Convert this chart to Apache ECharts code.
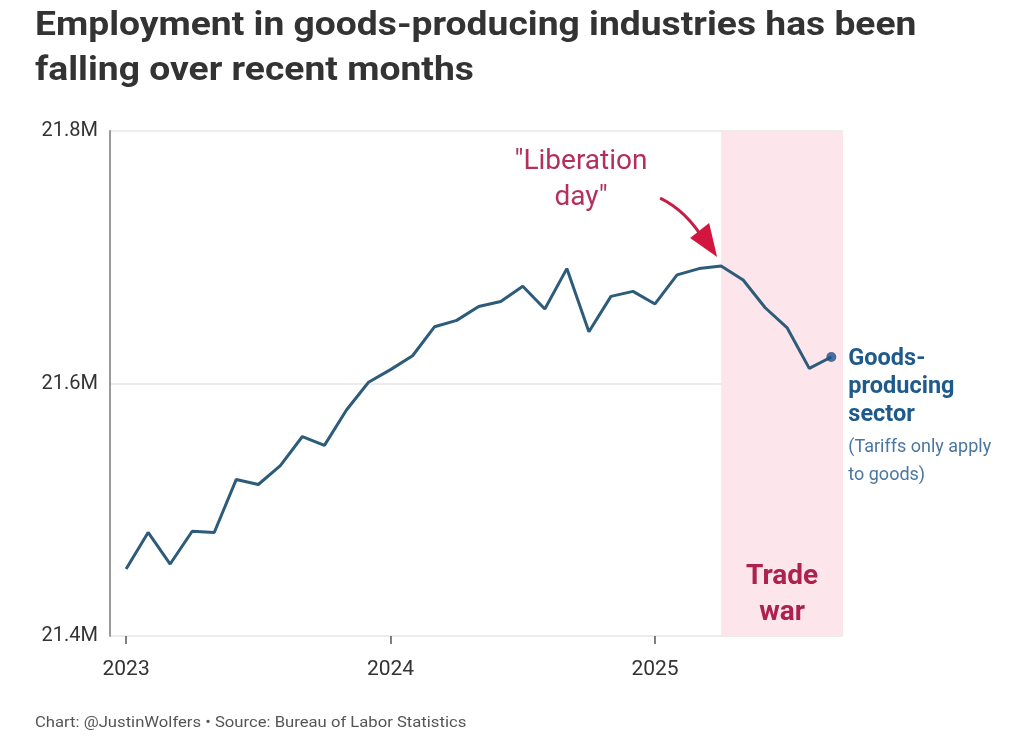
<!DOCTYPE html>
<html>
<head>
<meta charset="utf-8">
<script src="https://cdn.jsdelivr.net/npm/echarts@6/dist/echarts.min.js"></script>
<style>
  html, body { margin: 0; padding: 0; background: #ffffff; }
  #chart { width: 1012px; height: 739px; }
</style>
</head>
<body>
<div id="chart"></div>
<script>
// Monthly employment in goods-producing industries, millions (Jan 2023 - Sep 2025)
const months = [
  '2023-01','2023-02','2023-03','2023-04','2023-05','2023-06','2023-07','2023-08','2023-09','2023-10','2023-11','2023-12',
  '2024-01','2024-02','2024-03','2024-04','2024-05','2024-06','2024-07','2024-08','2024-09','2024-10','2024-11','2024-12',
  '2025-01','2025-02','2025-03','2025-04','2025-05','2025-06','2025-07','2025-08','2025-09'
];
const employment = [
  21.453, 21.482, 21.457, 21.483, 21.482, 21.524, 21.520, 21.535, 21.558, 21.551, 21.579, 21.601,
  21.611, 21.622, 21.645, 21.650, 21.661, 21.665, 21.677, 21.659, 21.691, 21.641, 21.669, 21.673,
  21.663, 21.686, 21.691, 21.693, 21.682, 21.660, 21.644, 21.612, 21.621
];
const yearLabels = ['2023', '2024', '2025'];
const yTicks = [21.4, 21.6, 21.8];
const tradeWarStart = '2025-04';

const FONT = 'Roboto, "Noto Sans", sans-serif';
const LINE = '#2d5b7a';
const ANNOT = '#b3305b';

// month index along the x axis, 0 = Jan 2023
const idx = m => months.indexOf(m);
const seriesData = employment.map((v, i) => [i, v]);
const yearTickPos = yearLabels.map(y => idx(y + '-01'));
const X_MIN = -0.73, X_MAX = 32.53;

const chart = echarts.init(document.getElementById('chart'));

chart.setOption({
  backgroundColor: '#ffffff',
  animation: false,
  grid: { left: 110, right: 169, top: 131, bottom: 103 },
  xAxis: {
    type: 'value',
    min: X_MIN,
    max: X_MAX,
    axisLine: { show: false },
    splitLine: { show: false },
    axisTick: {
      show: true,
      customValues: yearTickPos,
      length: 8,
      lineStyle: { color: '#555', width: 1.5 }
    },
    axisLabel: {
      customValues: yearTickPos,
      formatter: v => yearLabels[yearTickPos.indexOf(v)] || '',
      margin: 23,
      fontFamily: FONT,
      fontSize: 21,
      color: '#333'
    }
  },
  yAxis: {
    type: 'value',
    min: yTicks[0],
    max: yTicks[yTicks.length - 1],
    interval: 0.2,
    axisLine: { show: true, onZero: false, lineStyle: { color: '#9a9a9a', width: 2 } },
    axisTick: { show: false },
    splitLine: { show: true, lineStyle: { color: '#e6e6e6', width: 1.5 } },
    axisLabel: {
      formatter: v => v.toFixed(1) + 'M',
      margin: 12,
      fontFamily: FONT,
      fontSize: 20,
      color: '#333',
      verticalAlign: 'middle'
    }
  },
  series: [{
    type: 'line',
    data: seriesData,
    showSymbol: false,
    symbol: 'none',
    lineStyle: { color: LINE, width: 3 },
    z: 3,
    markArea: {
      silent: true,
      itemStyle: { color: '#fde5ec' },
      data: [[{ xAxis: idx(tradeWarStart) }, { xAxis: X_MAX }]]
    }
  }, {
    // end-of-series dot
    type: 'scatter',
    data: [seriesData[seriesData.length - 1]],
    symbolSize: 10,
    itemStyle: { color: '#1f4f8a' },
    z: 4
  }]
});

// annotations positioned from the data
const last = seriesData[seriesData.length - 1];
const pEnd = chart.convertToPixel({ gridIndex: 0 }, last);
const pPeak = chart.convertToPixel({ gridIndex: 0 }, [idx(tradeWarStart), employment[idx(tradeWarStart)]]);
const pTop = chart.convertToPixel({ gridIndex: 0 }, [idx(tradeWarStart), yTicks[2]]);
const pBot = chart.convertToPixel({ gridIndex: 0 }, [idx(tradeWarStart), yTicks[0]]);
const pRight = chart.convertToPixel({ gridIndex: 0 }, [X_MAX, yTicks[0]]);
const warCx = (pPeak[0] + pRight[0]) / 2;

const tip = [pPeak[0] - 6, pPeak[1] - 10];

chart.setOption({
  graphic: [
    {
      type: 'text', x: 35, y: 4, scaleX: 1.095, z: 100,
      style: {
        text: 'Employment in goods-producing industries has been\nfalling over recent months',
        font: 'bold 34px ' + FONT, fill: '#333', lineHeight: 45
      }
    },
    {
      type: 'text', x: 35, y: 716, scaleX: 1.11, z: 100,
      style: {
        text: 'Chart: @JustinWolfers \u2022 Source: Bureau of Labor Statistics',
        font: '15px ' + FONT, fill: '#555'
      }
    },
    {
      type: 'text', x: 581, y: 180, z: 100,
      style: {
        text: '"Liberation\nday"', font: '28px ' + FONT, fill: ANNOT,
        align: 'center', verticalAlign: 'middle', lineHeight: 36
      }
    },
    {
      type: 'bezierCurve', z: 100,
      shape: {
        x1: tip[0] - 55, y1: tip[1] - 58,
        x2: tip[0] - 10, y2: tip[1] - 14,
        cpx1: tip[0] - 28, cpy1: tip[1] - 45
      },
      style: { stroke: '#c41f47', lineWidth: 3, fill: null }
    },
    {
      type: 'polygon', z: 100,
      shape: { points: [[tip[0] + 2, tip[1] + 1], [tip[0] - 25, tip[1] - 18], [tip[0] - 6, tip[1] - 33]] },
      style: { fill: '#d3163f' }
    },
    {
      type: 'text', x: warCx, y: (pTop[1] + pBot[1]) / 2 + 211, z: 100,
      style: {
        text: 'Trade\nwar', font: 'bold 28px ' + FONT, fill: '#ac2150',
        align: 'center', verticalAlign: 'middle', lineHeight: 36
      }
    },
    {
      type: 'text', x: pEnd[0] + 17, y: pEnd[1] - 12, z: 100,
      style: {
        text: 'Goods-\nproducing\nsector', font: 'bold 23.5px ' + FONT, fill: '#1f5a8c',
        lineHeight: 28
      }
    },
    {
      type: 'text', x: pEnd[0] + 17, y: pEnd[1] + 77, z: 100,
      style: {
        text: '(Tariffs only apply\nto goods)', font: '18px ' + FONT, fill: '#4a76a0',
        lineHeight: 28
      }
    }
  ]
});
</script>
</body>
</html>
